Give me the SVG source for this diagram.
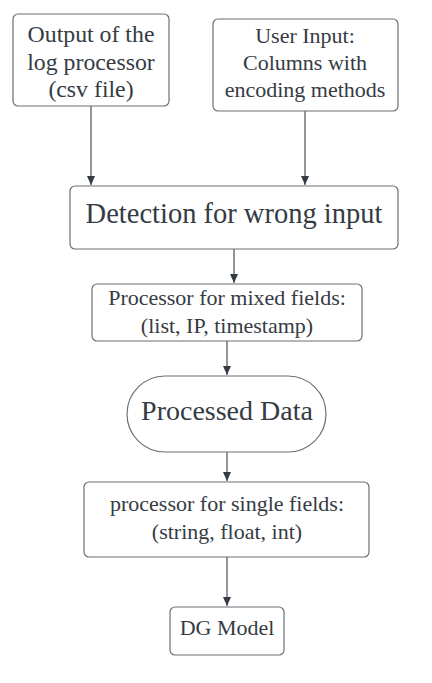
<svg xmlns="http://www.w3.org/2000/svg" width="432" height="683" viewBox="0 0 432 683">
<style>
.box{fill:#ffffff;stroke:#6b6f76;stroke-width:1.2}
.t{font-family:"Liberation Serif","Times New Roman",serif;fill:#353b44;text-anchor:middle;font-size:22px}
.big{font-size:28.5px}
.edge{stroke:#4a4f57;stroke-width:1.2;fill:none;marker-end:url(#ah)}
</style>
<defs>
<marker id="ah" markerWidth="9" markerHeight="8" refX="9" refY="4" orient="auto" markerUnits="userSpaceOnUse" viewBox="0 0 9 8">
<path d="M0,0 L9,4 L0,8 Z" fill="#353b44"/>
</marker>
</defs>
<rect width="432" height="683" fill="#ffffff"/>
<g id="connectors">
<line class="edge" x1="91" y1="106" x2="91" y2="185"/>
<line class="edge" x1="305" y1="111" x2="305" y2="185"/>
<line class="edge" x1="234" y1="249" x2="234" y2="283"/>
<line class="edge" x1="227" y1="341" x2="227" y2="375"/>
<line class="edge" x1="227" y1="452" x2="227" y2="481"/>
<line class="edge" x1="227" y1="557" x2="227" y2="606"/>
</g>
<g id="log-output">
<rect class="box" x="13" y="14" width="156" height="92" rx="5"/>
<text class="t" x="91" y="42" style="font-size:23.8px">Output of the</text>
<text class="t" x="91" y="70" style="font-size:23.8px">log processor</text>
<text class="t" x="91" y="97" style="font-size:23.8px">(csv file)</text>
</g>
<g id="user-input">
<rect class="box" x="213" y="19" width="185" height="92" rx="5"/>
<text class="t" x="305" y="43">User Input:</text>
<text class="t" x="305" y="70">Columns with</text>
<text class="t" x="305" y="97">encoding methods</text>
</g>
<g id="detection">
<rect class="box" x="70" y="186" width="328" height="63" rx="5"/>
<text class="t big" x="234" y="223">Detection for wrong input</text>
</g>
<g id="mixed">
<rect class="box" x="92" y="284" width="270" height="57" rx="5"/>
<text class="t" x="227" y="305">Processor for mixed fields:</text>
<text class="t" x="227" y="333">(list, IP, timestamp)</text>
</g>
<g id="processed">
<rect class="box" x="127" y="376" width="199" height="76" rx="38"/>
<text class="t" x="227" y="420" style="font-size:28px">Processed Data</text>
</g>
<g id="single">
<rect class="box" x="84" y="482" width="285" height="75" rx="5"/>
<text class="t" x="227" y="511">processor for single fields:</text>
<text class="t" x="227" y="539">(string, float, int)</text>
</g>
<g id="dg-model">
<rect class="box" x="170" y="607" width="114" height="48" rx="5"/>
<text class="t" x="227" y="635">DG Model</text>
</g>
</svg>
